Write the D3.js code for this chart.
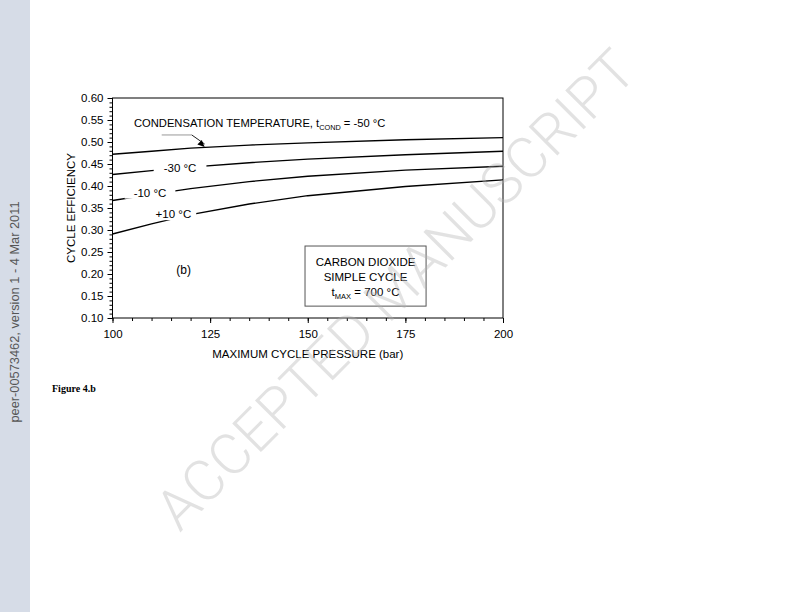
<!DOCTYPE html>
<html lang="en">
<head>
<meta charset="UTF-8">
<title>Cycle efficiency vs maximum cycle pressure</title>
<script src="https://d3js.org/d3.v7.min.js"></script>
<style>
    body { margin: 0; background: #fff; }
    svg { display: block; font-family: "Liberation Sans", Arial, sans-serif; }
</style>
</head>
<body>
<script>
    // values
    const pressure = [100, 110, 120, 135, 150, 175, 200];
    const effM50 = [0.472, 0.479, 0.486, 0.493, 0.498, 0.505, 0.510];
    const effM30 = [0.426, 0.435, 0.443, 0.453, 0.461, 0.471, 0.479];
    const effM10 = [0.367, 0.381, 0.394, 0.410, 0.422, 0.436, 0.445];
    const effP10 = [0.291, 0.314, 0.335, 0.359, 0.378, 0.399, 0.414];
    const seriesNames = ["-50 °C", "-30 °C", "-10 °C", "+10 °C"];
    const xTicks = [100, 125, 150, 175, 200];
    const yTicks = [0.10, 0.15, 0.20, 0.25, 0.30, 0.35, 0.40, 0.45, 0.50, 0.55, 0.60];

    const W = 792, H = 612;
    const svg = d3.select("body").append("svg")
        .attr("width", W)
        .attr("height", H);

    // page furniture: side band
    svg.append("rect")
        .attr("x", 0).attr("y", 0)
        .attr("width", 30).attr("height", H)
        .attr("fill", "#d6dce7");
    svg.append("text")
        .attr("transform", "translate(19,312) rotate(-90)")
        .attr("text-anchor", "middle")
        .attr("font-size", 12.8)
        .attr("fill", "#555")
        .text("peer-00573462, version 1 - 4 Mar 2011");

    const margin = { top: 98, left: 112.5 },
        width = 390.5,
        height = 220;

    const g = svg.append("g")
        .attr("transform", `translate(${margin.left},${margin.top})`);

    const x = d3.scaleLinear().domain([100, 200]).range([0, width]);
    const y = d3.scaleLinear().domain([0.10, 0.60]).range([height, 0]);

    // minor ticks
    g.append("g")
        .attr("transform", `translate(0,${height})`)
        .call(d3.axisBottom(x).tickValues(d3.range(100, 201, 5)).tickSize(3).tickFormat(""))
        .call(a => a.select(".domain").remove());
    g.append("g")
        .call(d3.axisLeft(y).tickValues(d3.range(10, 61, 1).map(v => v / 100)).tickSize(3).tickFormat(""))
        .call(a => a.select(".domain").remove());

    // major ticks + labels
    g.append("g")
        .attr("transform", `translate(0,${height})`)
        .call(d3.axisBottom(x).tickValues(xTicks).tickSize(5).tickPadding(7).tickFormat(d3.format("d")))
        .call(a => a.select(".domain").remove())
        .call(a => a.selectAll("text").attr("font-size", 11.5).attr("fill", "#000").attr("font-family", "Liberation Sans"));
    g.append("g")
        .call(d3.axisLeft(y).tickValues(yTicks).tickSize(5).tickPadding(4).tickFormat(d3.format(".2f")))
        .call(a => a.select(".domain").remove())
        .call(a => a.selectAll("text").attr("font-size", 11.5).attr("fill", "#000").attr("font-family", "Liberation Sans"));

    // frame
    g.append("rect")
        .attr("width", width).attr("height", height)
        .attr("fill", "none")
        .attr("stroke", "#000")
        .attr("stroke-width", 1);

    const line = d3.line()
        .x(d => x(d[0]))
        .y(d => y(d[1]));

    const series = [effM50, effM30, effM10, effP10];
    g.append("g")
        .selectAll("path")
        .data(series)
        .join("path")
        .attr("d", s => line(pressure.map((p, i) => [p, s[i]])))
        .attr("fill", "none")
        .attr("stroke", "#000")
        .attr("stroke-width", 1.4);

    // in-line curve labels (white patch breaks the line)
    const labelAt = [null, [117.3, 0.441], [109.6, 0.385], [115.6, 0.336]];
    const padX = [0, 10, 9, 5];
    labelAt.forEach((pos, i) => {
        if (!pos) return;
        const lab = g.append("g").attr("transform", `translate(${x(pos[0])},${y(pos[1])})`);
        const t = lab.append("text")
            .attr("text-anchor", "middle")
            .attr("dy", "0.35em")
            .attr("font-size", 11.5)
            .text(seriesNames[i]);
        const w = t.node().getComputedTextLength();
        lab.insert("rect", "text")
            .attr("x", -w / 2 - padX[i]).attr("y", -6)
            .attr("width", w + 2 * padX[i]).attr("height", 12)
            .attr("fill", "#fff");
    });

    // -50 label with leader arrow
    const cond = g.append("text")
        .attr("x", x(105.5)).attr("y", y(0.54) + 3)
        .attr("font-size", 11.2);
    cond.append("tspan").text("CONDENSATION TEMPERATURE, t");
    cond.append("tspan").attr("font-size", 7.3).attr("dy", 3).text("COND");
    cond.append("tspan").attr("dy", -3).text(" = -50 °C");

    const ax = x(112.6), ay = y(0.516), bx = x(120.3), by = ay, ex = x(123.6), ey = y(0.4885);
    g.append("line")
        .attr("x1", ax).attr("y1", ay).attr("x2", bx).attr("y2", by)
        .attr("stroke", "#999").attr("stroke-width", 1);
    g.append("line")
        .attr("x1", bx).attr("y1", by).attr("x2", ex).attr("y2", ey - 3)
        .attr("stroke", "#222").attr("stroke-width", 1);
    const ang = Math.atan2(ey - by, ex - bx);
    const hl = 7, hw = 3.2;
    g.append("path")
        .attr("d", `M${ex},${ey}
            L${ex - hl * Math.cos(ang) + hw * Math.sin(ang)},${ey - hl * Math.sin(ang) - hw * Math.cos(ang)}
            L${ex - hl * Math.cos(ang) - hw * Math.sin(ang)},${ey - hl * Math.sin(ang) + hw * Math.cos(ang)}Z`)
        .attr("fill", "#000");

    // (b) panel tag
    g.append("text")
        .attr("x", x(118.2)).attr("y", y(0.21)).attr("dy", "0.35em")
        .attr("text-anchor", "middle")
        .attr("font-size", 12)
        .text("(b)");

    // info box
    const bx0 = x(149.3), bx1 = x(180.3), by0 = y(0.2636), by1 = y(0.127);
    g.append("rect")
        .attr("x", bx0).attr("y", by0)
        .attr("width", bx1 - bx0).attr("height", by1 - by0)
        .attr("fill", "#fff")
        .attr("stroke", "#555")
        .attr("stroke-width", 1);
    const cx = (bx0 + bx1) / 2;
    g.append("text").attr("x", cx).attr("y", by0 + 20).attr("text-anchor", "middle")
        .attr("font-size", 11.5).text("CARBON DIOXIDE");
    g.append("text").attr("x", cx).attr("y", by0 + 35).attr("text-anchor", "middle")
        .attr("font-size", 11.5).text("SIMPLE CYCLE");
    const tm = g.append("text").attr("x", cx).attr("y", by0 + 50).attr("text-anchor", "middle")
        .attr("font-size", 11.5);
    tm.append("tspan").text("t");
    tm.append("tspan").attr("font-size", 7.5).attr("dy", 3).text("MAX");
    tm.append("tspan").attr("dy", -3).text(" = 700 °C");

    // axis titles
    g.append("text")
        .attr("x", width / 2).attr("y", height + 40)
        .attr("text-anchor", "middle")
        .attr("font-size", 11.5)
        .text("MAXIMUM CYCLE PRESSURE (bar)");
    g.append("text")
        .attr("transform", `translate(-38,${height / 2}) rotate(-90)`)
        .attr("text-anchor", "middle")
        .attr("font-size", 11.5)
        .text("CYCLE EFFICIENCY");

    svg.append("text")
        .attr("x", 52).attr("y", 392)
        .attr("font-family", "Liberation Serif")
        .attr("font-weight", "bold")
        .attr("font-size", 10)
        .text("Figure 4.b");

    // watermark sits on top of everything, semi transparent
    svg.append("text")
        .attr("transform", "translate(396,290) rotate(-45)")
        .attr("text-anchor", "middle")
        .attr("y", 19)
        .attr("font-family", "Roboto, 'Liberation Sans', sans-serif")
        .attr("font-weight", 300)
        .attr("font-size", 57)
        .attr("fill", "#b4b4b4")
        .attr("fill-opacity", 0.38)
        .text("ACCEPTED MANUSCRIPT");
</script>
</body>
</html>
